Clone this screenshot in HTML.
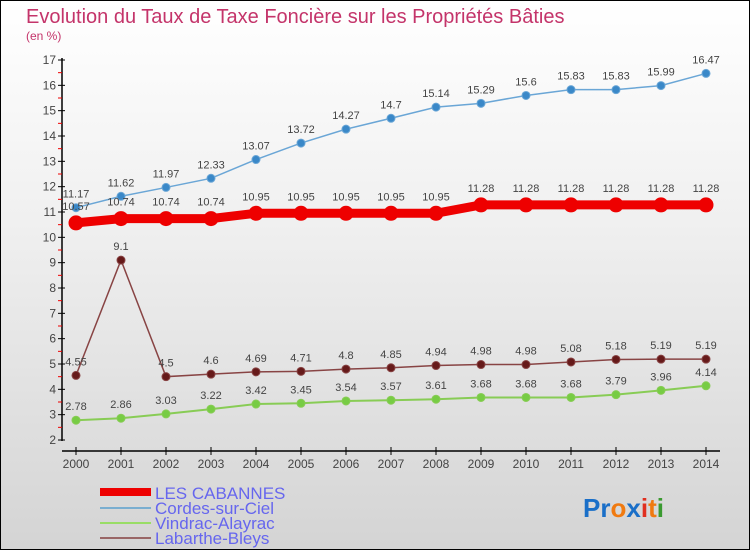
<!DOCTYPE html>
<html><head><meta charset="utf-8"><style>
body{margin:0}
#c{width:750px;height:550px;position:relative;box-sizing:border-box;border:1px solid #000;background:linear-gradient(#fff,#f0f0f0 40%,#d4d4d4);font-family:"Liberation Sans",sans-serif;overflow:hidden}
</style></head><body>
<div id="c">
<svg id="s" width="750" height="550" style="position:absolute;left:-1px;top:-1px">
<text x="26" y="23" font-size="20" fill="#c4346a">Evolution du Taux de Taxe Foncière sur les Propriétés Bâties</text>
<text x="26" y="40" font-size="12" fill="#c4346a">(en %)</text>
<g id="axes"></g><g id="series"></g>
<g>
<rect x="100" y="488" width="51" height="8" fill="#e00"/>
<text x="155" y="499" font-size="17" fill="#6666ee">LES CABANNES</text>
<line x1="100" y1="508" x2="151" y2="508" stroke="#7aaed0" stroke-width="2"/>
<text x="155" y="514" font-size="17" fill="#6666ee">Cordes-sur-Ciel</text>
<line x1="100" y1="523" x2="151" y2="523" stroke="#99dd66" stroke-width="2"/>
<text x="155" y="529" font-size="17" fill="#6666ee">Vindrac-Alayrac</text>
<line x1="100" y1="538" x2="151" y2="538" stroke="#996666" stroke-width="2"/>
<text x="155" y="544" font-size="17" fill="#6666ee">Labarthe-Bleys</text>
</g>
<text x="583" y="517" font-size="26" font-weight="bold"><tspan fill="#1a6fc8">Pr</tspan><tspan fill="#f07a10">o</tspan><tspan fill="#1a6fc8">x</tspan><tspan fill="#e03020">i</tspan><tspan fill="#f07a10">t</tspan><tspan fill="#3a9a30">i</tspan></text>
</svg>
</div>
<script>
const years=[2000,2001,2002,2003,2004,2005,2006,2007,2008,2009,2010,2011,2012,2013,2014];
const cabannes=[10.57,10.74,10.74,10.74,10.95,10.95,10.95,10.95,10.95,11.28,11.28,11.28,11.28,11.28,11.28];
const cordes=[11.17,11.62,11.97,12.33,13.07,13.72,14.27,14.7,15.14,15.29,15.6,15.83,15.83,15.99,16.47];
const vindrac=[2.78,2.86,3.03,3.22,3.42,3.45,3.54,3.57,3.61,3.68,3.68,3.68,3.79,3.96,4.14];
const labarthe=[4.55,9.1,4.5,4.6,4.69,4.71,4.8,4.85,4.94,4.98,4.98,5.08,5.18,5.19,5.19];
const yTicks=[2,3,4,5,6,7,8,9,10,11,12,13,14,15,16,17];
const NS="http://www.w3.org/2000/svg";
const X=i=>76+i*45;
const Y=v=>440-(v-2)*(380/15);
function mk(p,tag,a){const e=document.createElementNS(NS,tag);for(const k in a)e.setAttribute(k,a[k]);p.appendChild(e);return e;}
const ax=document.getElementById('axes');
let e=mk(ax,'line',{x1:62,y1:58,x2:62,y2:441,stroke:'#000','stroke-width':1.5});


e=mk(ax,'line',{x1:62,y1:451,x2:720,y2:451,stroke:'#000','stroke-width':1.5});


yTicks.forEach(v=>{
 mk(ax,'line',{x1:58,y1:Y(v),x2:65,y2:Y(v),stroke:'#000'});
 if(v<17)mk(ax,'line',{x1:58,y1:Y(v+0.5),x2:62,y2:Y(v+0.5),stroke:'#e00'});
 const t=mk(ax,'text',{x:56,y:Y(v)+4,'font-size':12,fill:'#444','text-anchor':'end'});
 t.textContent=v;
 
 
});
years.forEach((y,i)=>{
 mk(ax,'line',{x1:X(i),y1:447,x2:X(i),y2:455,stroke:'#000'});
 const t=mk(ax,'text',{x:X(i),y:468,'font-size':12,fill:'#444','text-anchor':'middle'});
 t.textContent=y;
 
 
});
const sg=document.getElementById('series');
function draw(vals,name,stroke,sw,fill,r,lbl){
 const g=mk(sg,'g',{});
 
 
 const l=mk(g,'polyline',{points:vals.map((v,i)=>X(i)+','+Y(v)).join(' '),fill:'none',stroke:stroke,'stroke-width':sw});
 
 
 vals.forEach((v,i)=>{
  const c=mk(g,'circle',{cx:X(i),cy:Y(v),r:r,fill:fill,stroke:stroke,'stroke-width':1});
  
  
  const t=mk(g,'text',{x:X(i),y:Y(v)-lbl,'font-size':11,fill:'#444','text-anchor':'middle'});
  t.textContent=v;
  
  
 });
}
draw(vindrac,'vindrac','#88cc55',2,'#77cc44',4,10);
draw(labarthe,'labarthe','#884444',1.5,'#661a1a',4,10);
draw(cordes,'cordes','#6aa6d6',1.5,'#3a88c8',4,10);
draw(cabannes,'cabannes','#e00',9,'#e00',7,13);
</script>
</body></html>
